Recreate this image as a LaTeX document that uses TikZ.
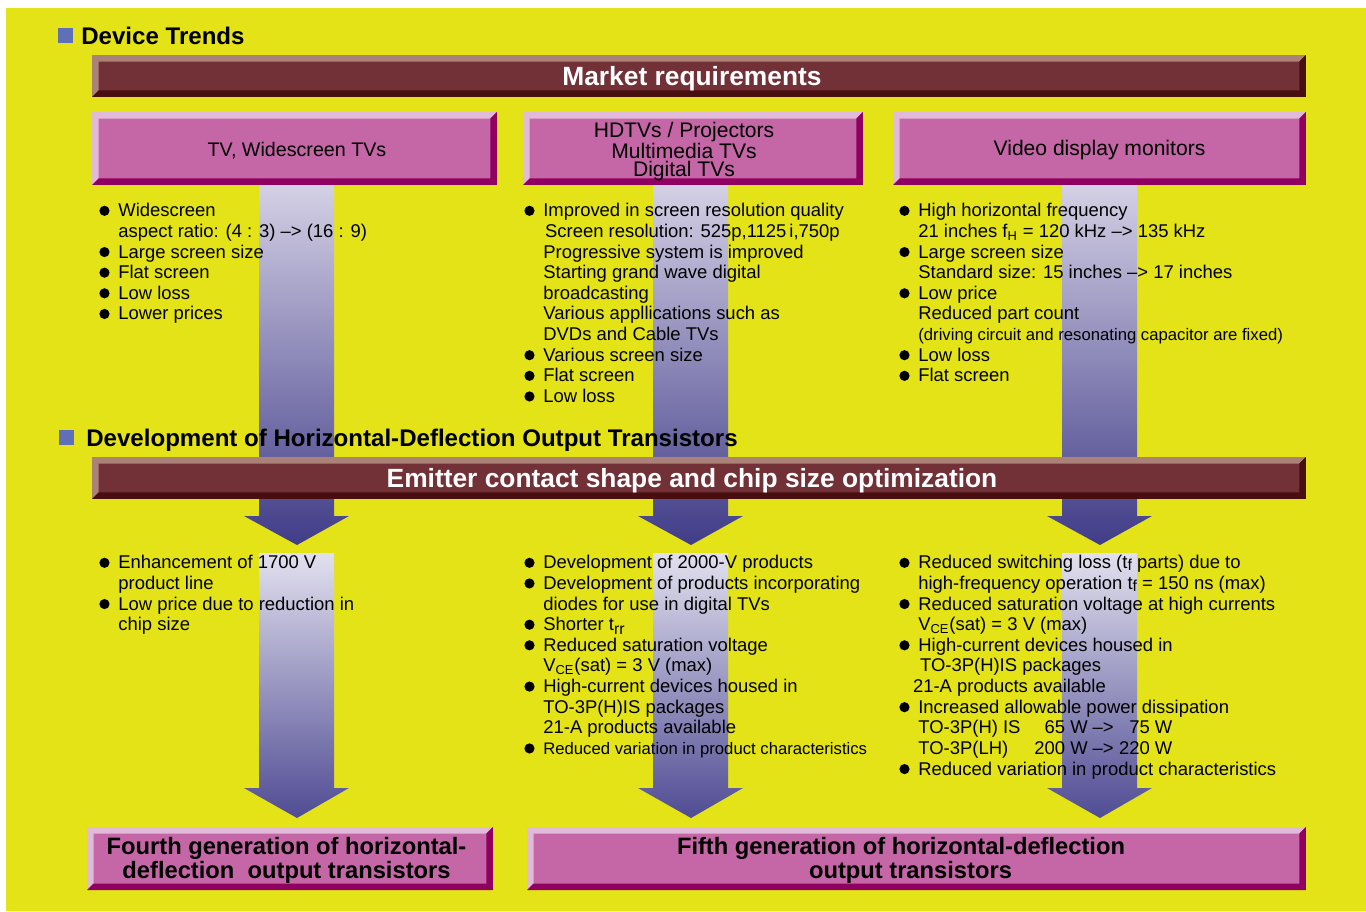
\documentclass[tikz,border=0pt]{standalone}
\usepackage{fontspec}
\setmainfont{Liberation Sans}
\definecolor{bgyellow}{RGB}{227,227,24}
\definecolor{barmain}{RGB}{114,48,55}
\definecolor{barlight}{RGB}{170,130,120}
\definecolor{bardark}{RGB}{72,14,16}
\definecolor{pinkmain}{RGB}{197,102,166}
\definecolor{pinklight}{RGB}{224,186,216}
\definecolor{pinkdark}{RGB}{144,0,96}
\definecolor{sqblue}{RGB}{96,112,184}
\definecolor{arrtop}{RGB}{214,210,230}
\definecolor{arrbot}{RGB}{64,60,136}
\definecolor{arrtopb}{RGB}{226,224,238}
\definecolor{arrbotb}{RGB}{80,76,148}
\newcommand\bevw{0.13cm}
\newcommand\dotitem{\strut\llap{\tikz[baseline=-3.4pt]\fill (0,0) circle (2.9pt);\hspace{5pt}}}
\newcommand\lowsub[2]{\raisebox{-#1}{\fontsize{9}{9}\selectfont #2}}
\begin{document}
\begin{tikzpicture}[x=0.02cm, y=-0.02cm,
  bevel/.style n args={3}{fill=#1, path picture={
    \fill[#2] (path picture bounding box.south west) -- (path picture bounding box.north west)
      -- (path picture bounding box.north east) -- ([xshift=-\bevw,yshift=-\bevw]path picture bounding box.north east)
      -- ([xshift=\bevw,yshift=-\bevw]path picture bounding box.north west) -- ([xshift=\bevw,yshift=\bevw]path picture bounding box.south west) -- cycle;
    \fill[#3] (path picture bounding box.south west) -- (path picture bounding box.south east)
      -- (path picture bounding box.north east) -- ([xshift=-\bevw,yshift=-\bevw]path picture bounding box.north east)
      -- ([xshift=-\bevw,yshift=\bevw]path picture bounding box.south east) -- ([xshift=\bevw,yshift=\bevw]path picture bounding box.south west) -- cycle;}},
  mbar/.style={bevel={barmain}{barlight}{bardark}, minimum width=24.28cm, minimum height=0.84cm, inner sep=0pt},
  pbox/.style={bevel={pinkmain}{pinklight}{pinkdark}, inner sep=0pt},
  bartext/.style={text=white, inner sep=0pt, font=\bfseries\fontsize{15}{18}\selectfont},
  boxtext/.style={align=center, inner sep=0pt, font=\fontsize{12}{10.5}\selectfont},
  gentext/.style={align=center, inner sep=0pt, font=\bfseries\fontsize{13.5}{13.6}\selectfont},
  heading/.style={anchor=base west, inner sep=0pt, font=\bfseries\fontsize{13.7}{16}\selectfont},
  listtext/.style={anchor=north west, inner sep=0pt, align=left, font=\fontsize{10.5}{11.74}\selectfont},
  toparrow/.style={top color=arrtop, bottom color=arrbot},
  botarrow/.style={top color=arrtopb, bottom color=arrbotb}]
\useasboundingbox (0,0) rectangle (1366,912);
\fill[bgyellow] (6,8) rectangle (1366,911);
% arrows behind everything
\shade[toparrow] (259,180) -- (334,180) -- (334,516) -- (349,516) -- (297,545) -- (244,516) -- (259,516) -- cycle;
\shade[toparrow] (653,180) -- (728,180) -- (728,516) -- (743,516) -- (691,545) -- (638,516) -- (653,516) -- cycle;
\shade[toparrow] (1062,180) -- (1137,180) -- (1137,516) -- (1152,516) -- (1100,545) -- (1047,516) -- (1062,516) -- cycle;
\shade[botarrow] (259,553) -- (334,553) -- (334,788) -- (349,788) -- (297,818) -- (244,788) -- (259,788) -- cycle;
\shade[botarrow] (653,553) -- (728,553) -- (728,788) -- (743,788) -- (691,818) -- (638,788) -- (653,788) -- cycle;
\shade[botarrow] (1062,553) -- (1137,553) -- (1137,788) -- (1152,788) -- (1100,818) -- (1047,788) -- (1062,788) -- cycle;
% headings
\fill[sqblue] (58,28) rectangle (73,43);
\node[heading] (devtrends) at (81,44.5) {Device Trends};
\node[mbar] (market) at (699,76) {};
\node[bartext] (markettxt) at (692,79) {Market requirements};
\node[pbox, minimum width=8.1cm, minimum height=1.46cm] (tvbox) at (294.5,148.5) {};
\node[boxtext, font=\fontsize{11.2}{10.5}\selectfont] (tvtxt) at (297,150.5) {TV, Widescreen TVs};
\node[pbox, minimum width=6.8cm, minimum height=1.46cm] (hdbox) at (693,148.5) {};
\node[boxtext] (hdtxt) at (684,151.5) {HDTVs / Projectors\\Multimedia TVs\\Digital TVs};
\node[pbox, minimum width=8.26cm, minimum height=1.46cm] (vdmbox) at (1099.5,148.5) {};
\node[boxtext] (vdmtxt) at (1099.5,150.5) {Video display monitors};
% market lists
\node[listtext] (tvlist) at (118,202) {\dotitem Widescreen\\
  aspect ratio: (4 : 3) \textendash> (16 : 9)\\
  \dotitem Large screen size\\
  \dotitem Flat screen\\
  \dotitem Low loss\\
  \dotitem Lower prices};
\node[listtext] (hdlist) at (543,202) {\dotitem Improved in screen resolution quality\\
  \hspace{1pt}Screen resolution: 525p,1125\,i,750p\\
  Progressive system is improved\\
  Starting grand wave digital\\
  broadcasting\\
  Various appllications such as\\
  DVDs and Cable TVs\\
  \dotitem Various screen size\\
  \dotitem Flat screen\\
  \dotitem Low loss};
\node[listtext] (vdmlist) at (918,202) {\dotitem High horizontal frequency\\
  21 inches f\textsubscript{H} = 120 kHz \textendash> 135 kHz\\
  \dotitem Large screen size\\
  Standard size: 15 inches \textendash> 17 inches\\
  \dotitem Low price\\
  Reduced part count\\
  {\fontsize{9.5}{11.74}\selectfont (driving circuit and resonating capacitor are fixed)}\\
  \dotitem Low loss\\
  \dotitem Flat screen};
\fill[sqblue] (59,430) rectangle (74,445);
\node[heading] (hdoutput) at (86,446) {Development of Horizontal-Deflection Output Transistors};
\node[mbar] (emitter) at (699,478) {};
\node[bartext] (emittertxt) at (692,480.5) {Emitter contact shape and chip size optimization};
% transistor lists
\node[listtext] (gen4list) at (118,554) {\dotitem Enhancement of 1700 V\\
  product line\\
  \dotitem Low price due to reduction in\\
  chip size};
\node[listtext] (gen5list) at (543,554) {\dotitem Development of 2000-V products\\
  \dotitem Development of products incorporating\\
  diodes for use in digital TVs\\
  \dotitem Shorter t\lowsub{2pt}{rr}\\
  \dotitem Reduced saturation voltage\\
  V\textsubscript{CE}(sat) = 3 V (max)\\
  \dotitem High-current devices housed in\\
  TO-3P(H)IS packages\\
  21-A products available\\
  \dotitem {\fontsize{9.5}{11.74}\selectfont Reduced variation in product characteristics}};
\node[listtext] (gen5blist) at (918,554) {\dotitem Reduced switching loss (t\lowsub{1.2pt}{f} parts) due to\\
  high-frequency operation t\lowsub{1.2pt}{f} = 150 ns (max)\\
  \dotitem Reduced saturation voltage at high currents\\
  V\textsubscript{CE}(sat) = 3 V (max)\\
  \dotitem High-current devices housed in\\
  \hspace{1pt}TO-3P(H)IS packages\\
  \hspace{-3pt}21-A products available\\
  \dotitem Increased allowable power dissipation\\
  \makebox[60pt][l]{TO-3P(H) IS}\makebox[36.4pt][r]{65 W}\makebox[17.6pt]{\textendash>}\makebox[30.6pt][r]{75 W}\\
  \makebox[60pt][l]{TO-3P(LH)}\makebox[36.4pt][r]{200 W}\makebox[17.6pt]{\textendash>}\makebox[30.6pt][r]{220 W}\\
  \dotitem Reduced variation in product characteristics};
\node[pbox, minimum width=8.12cm, minimum height=1.26cm] (gen4box) at (290,858.5) {};
\node[gentext] (gen4txt) at (286.5,860.5) {Fourth generation of horizontal-\\deflection\ \ output transistors};
\node[pbox, minimum width=15.58cm, minimum height=1.26cm] (gen5box) at (916.5,858.5) {};
\node[gentext] (gen5txt) at (901,860) {Fifth generation of horizontal-deflection\\\hspace*{10.8pt}output transistors};
\end{tikzpicture}
\end{document}
